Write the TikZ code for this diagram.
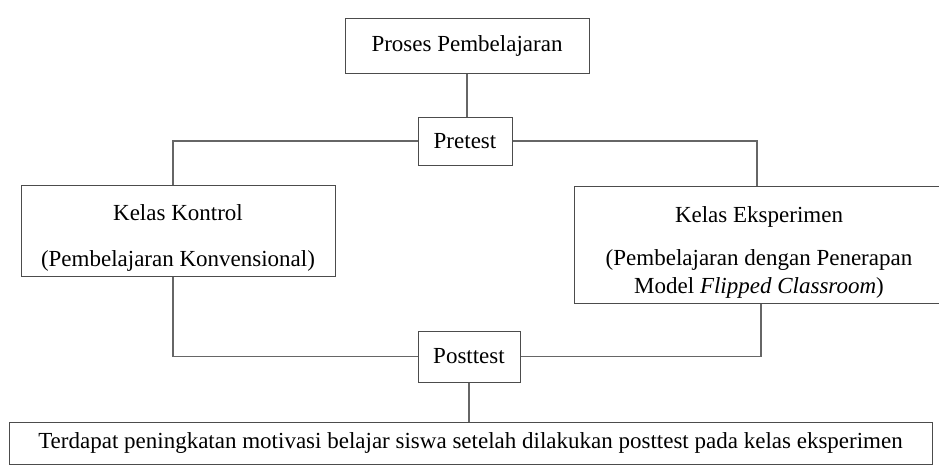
\documentclass[tikz,border=0pt]{standalone}
\usepackage{fontspec}
\setmainfont{Liberation Serif}
\usetikzlibrary{positioning}
\tikzset{
	kotak/.style={draw=black!70,line width=1pt,align=center,inner sep=0pt,font=\fontsize{23}{28}\selectfont},
	garis/.style={draw=black!60,line width=1.1pt}
}
\begin{document}
\begin{tikzpicture}[x=1pt,y=-1pt]
		\useasboundingbox (0,0) rectangle (939,466);
		
		\node[kotak,minimum width=244,minimum height=55] (proses) at (467,45.5) {Proses Pembelajaran};
		\node[kotak,minimum width=94,minimum height=48] (pretest) at (465,141) {Pretest};
		\node[kotak,minimum width=314,minimum height=91] (kontrol) at (178,230.5) {Kelas Kontrol\\[18pt](Pembelajaran Konvensional)\\[-38pt]};
		\node[kotak,minimum width=370,minimum height=117] (eksperimen) at (759,244.5) {Kelas Eksperimen\\[15pt](Pembelajaran dengan Penerapan\\Model \textit{Flipped Classroom})\\[-40pt]};
		\node[kotak,minimum width=102,minimum height=51] (posttest) at (469,356.5) {Posttest};
		\node[kotak,minimum width=923,minimum height=42] (hasil) at (470.5,443) {Terdapat peningkatan motivasi belajar siswa setelah dilakukan posttest pada kelas eksperimen};
		
		\draw[garis] (proses.south) -- (proses.south |- pretest.north);
		\draw[garis] (pretest.west) -| ([xshift=-5pt]kontrol.north);
		\draw[garis] (pretest.east) -| ([xshift=-2pt]eksperimen.north);
		\draw[garis] ([xshift=-5pt]kontrol.south) |- (posttest.west);
		\draw[garis] ([xshift=2pt]eksperimen.south) |- (posttest.east);
		\draw[garis] (posttest.south) -- (posttest.south |- hasil.north);
	\end{tikzpicture}
\end{document}
